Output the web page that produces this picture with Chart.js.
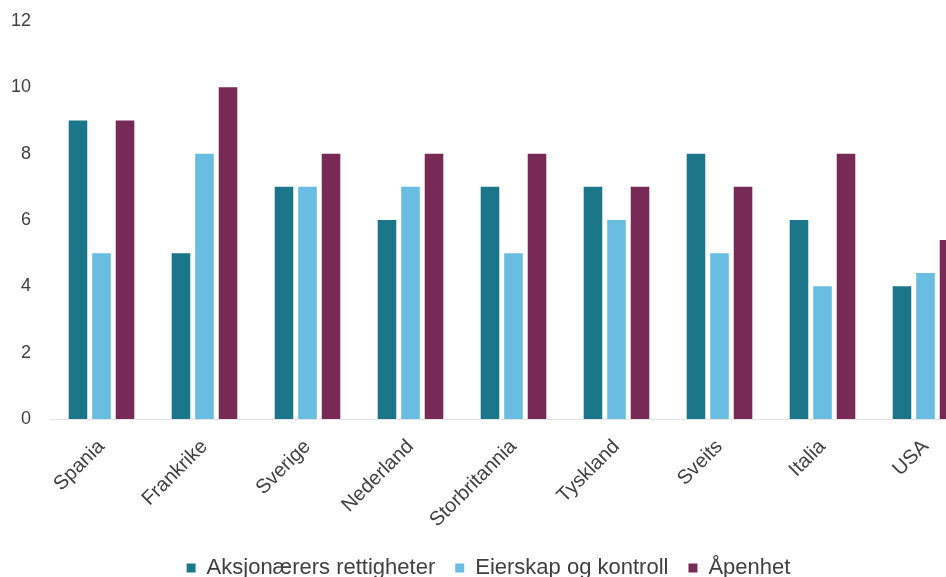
<!DOCTYPE html>
<html>
<head>
<meta charset="utf-8">
<script src="https://cdn.jsdelivr.net/npm/chart.js@4"></script>
<style>
  html, body { margin: 0; padding: 0; background: #fff; overflow: hidden; }
  #wrap { position: relative; width: 988px; height: 577px; }
</style>
</head>
<body>
<div id="wrap"><canvas id="chart"></canvas></div>
<script>
const LAND = ['Spania','Frankrike','Sverige','Nederland','Storbritannia','Tyskland','Sveits','Italia','USA'];
const RETTIGHETER = [9, 5, 7, 6, 7, 7, 8, 6, 4];
const EIERSKAP    = [5, 8, 7, 7, 5, 6, 5, 4, 4.4];
const APENHET     = [9, 10, 8, 8, 8, 7, 7, 8, 5.4];
const SERIER = ['Aksjonærers rettigheter', 'Eierskap og kontroll', 'Åpenhet'];
const FARGER = ['#1c768a', '#69bde0', '#772a55'];

const tekst = '#404040';
const font = 'Liberation Sans, Arial, sans-serif';

new Chart(document.getElementById('chart'), {
  type: 'bar',
  data: {
    labels: LAND,
    datasets: [RETTIGHETER, EIERSKAP, APENHET].map((d, i) => ({
      label: SERIER[i],
      data: d,
      backgroundColor: FARGER[i],
      categoryPercentage: 0.685,
      barPercentage: 0.79
    }))
  },
  options: {
    responsive: true,
    maintainAspectRatio: false,
    animation: false,
    layout: { padding: { top: 21, right: 11, left: 0, bottom: -12 } },
    scales: {
      x: {
        grid: { display: false },
        border: { display: true, color: '#e4e4e4' },
        ticks: { color: tekst, font: { family: font, size: 20 }, minRotation: 45, maxRotation: 45, padding: 8 },
        afterFit: s => { s.height = 118; s.paddingLeft = 0; s.paddingRight = 0; }
      },
      y: {
        min: 0, max: 12,
        grid: { display: false, drawTicks: false },
        border: { display: false },
        ticks: { stepSize: 2, color: tekst, font: { family: font, size: 18 }, padding: 19 },
        afterFit: s => { s.width = 50; s.paddingTop = 0; s.paddingBottom = 0; }
      }
    },
    plugins: {
      legend: {
        position: 'bottom',
        labels: { color: tekst, font: { family: font, size: 22 }, boxWidth: 9, boxHeight: 9, padding: 20 }
      },
      tooltip: { enabled: false }
    }
  }
});
</script>
</body>
</html>
